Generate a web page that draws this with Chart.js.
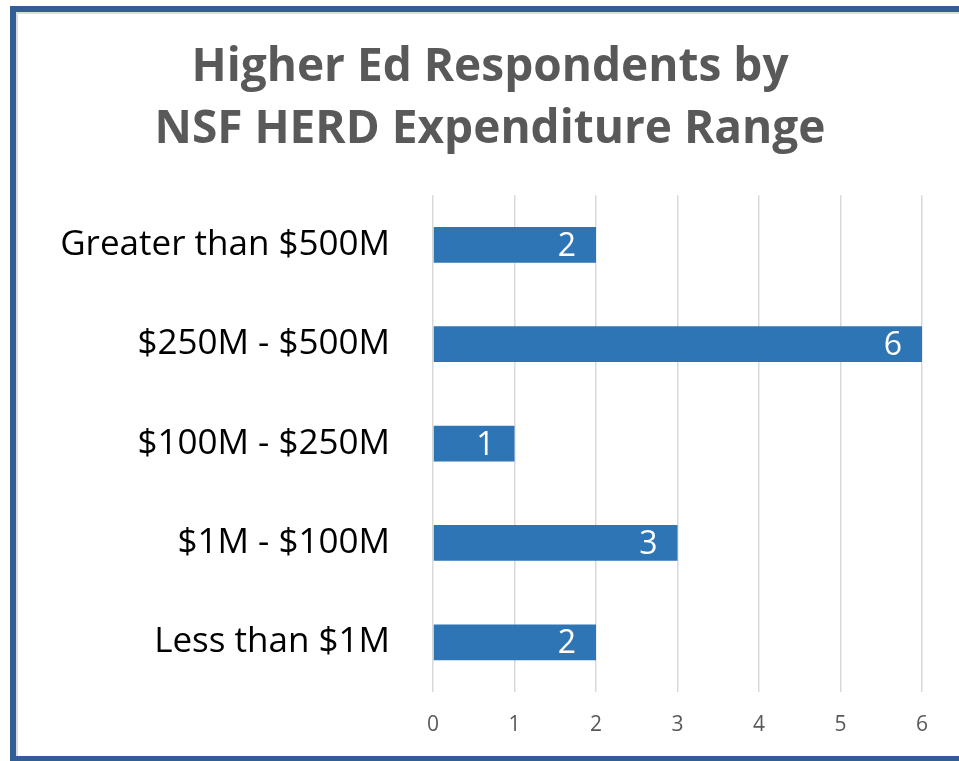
<!DOCTYPE html>
<html>
<head>
<meta charset="utf-8">
<script src="https://cdn.jsdelivr.net/npm/chart.js@4"></script>
<style>
  html, body { margin: 0; padding: 0; background: #fff; }
  #frame {
    position: absolute; left: 10px; top: 6px; width: 960px; height: 744px;
    border: 6px solid #335d95; border-right: none;
    box-shadow: inset 2px 2px 0 #dcdcdc;
  }
  #wrap { position: absolute; left: 0; top: 0; width: 959px; height: 761px; }
</style>
</head>
<body>
<div id="frame"></div>
<div id="wrap"><canvas id="herd" width="959" height="761"></canvas></div>
<script>
var rangos = ['Greater than $500M', '$250M - $500M', '$100M - $250M', '$1M - $100M', 'Less than $1M'];
var respuestas = [2, 6, 1, 3, 2];
var ticksX = [0, 1, 2, 3, 4, 5, 6];

// etiquetas blancas dentro del final de cada barra
var etiquetas = {
    id: 'etiquetas',
    afterDatasetsDraw: function (chart) {
        var ctx = chart.ctx;
        var meta = chart.getDatasetMeta(0);
        ctx.save();
        ctx.fillStyle = '#ffffff';
        ctx.font = '32px "Open Sans", sans-serif';
        ctx.textAlign = 'right';
        ctx.textBaseline = 'middle';
        meta.data.forEach(function (bar, i) {
            ctx.fillText(String(respuestas[i]), bar.x - 20, bar.y + 2);
        });
        ctx.restore();
    }
};

var ctx = document.getElementById('herd');
var myChart = new Chart(ctx, {
    type: 'bar',
    data: {
        labels: rangos,
        datasets: [{
            label: 'Respondents',
            data: respuestas,
            backgroundColor: '#2e75b6',
            borderWidth: 0,
            categoryPercentage: 1,
            barPercentage: 0.36
        }]
    },
    options: {
        indexAxis: 'y',
        responsive: false,
        animation: false,
        layout: { padding: { left: 58, right: 37, top: 0, bottom: 0 } },
        scales: {
            x: {
                min: 0,
                max: 6,
                afterBuildTicks: function (s) { s.ticks = ticksX.map(function (v) { return { value: v }; }); },
                afterFit: function (s) { s.height = 69; },
                grid: { color: '#d9d9d9', lineWidth: 1.5, drawTicks: false },
                border: { display: false },
                ticks: {
                    color: '#595959',
                    padding: 20,
                    font: { family: '"Open Sans", sans-serif', size: 21 }
                }
            },
            y: {
                afterFit: function (s) { s.width = 375; },
                grid: { display: false, drawTicks: false },
                border: { display: false },
                ticks: {
                    color: '#000000',
                    padding: 43,
                    font: { family: '"Open Sans", sans-serif', size: 35 }
                }
            }
        },
        plugins: {
            legend: { display: false },
            tooltip: { enabled: false },
            title: {
                display: true,
                text: ['Higher Ed Respondents by', 'NSF HERD Expenditure Range'],
                color: '#595959',
                font: { family: '"Open Sans", sans-serif', size: 46, weight: 'bold', lineHeight: 1.35 },
                padding: { top: 37, bottom: 34 }
            }
        }
    },
    plugins: [etiquetas]
});
</script>
</body>
</html>
